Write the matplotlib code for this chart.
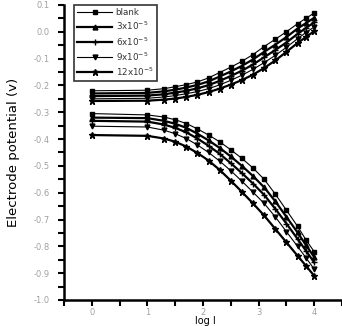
import matplotlib
matplotlib.use("Agg")
import matplotlib.pyplot as plt
from matplotlib.ticker import MultipleLocator, FormatStrFormatter

log_i = [0, 1.0, 1.3, 1.5, 1.7, 1.9, 2.1, 2.3, 2.5, 2.7, 2.9, 3.1, 3.3, 3.5, 3.7, 3.85, 4.0]

labels = ["blank", "3x10$^{-5}$", "6x10$^{-5}$", "9x10$^{-5}$", "12x10$^{-5}$"]

# anodic branch (upper)
anodic = [
    [-0.220, -0.218, -0.212, -0.205, -0.197, -0.187, -0.172, -0.152, -0.132, -0.110, -0.085, -0.055, -0.028, 0.000, 0.030, 0.050, 0.070],
    [-0.230, -0.228, -0.222, -0.216, -0.208, -0.198, -0.185, -0.167, -0.148, -0.127, -0.103, -0.075, -0.048, -0.020, 0.012, 0.032, 0.052],
    [-0.240, -0.238, -0.233, -0.227, -0.220, -0.211, -0.199, -0.183, -0.165, -0.145, -0.122, -0.095, -0.068, -0.040, -0.008, 0.014, 0.035],
    [-0.250, -0.248, -0.243, -0.238, -0.231, -0.223, -0.212, -0.198, -0.181, -0.162, -0.140, -0.115, -0.088, -0.058, -0.026, -0.003, 0.018],
    [-0.258, -0.257, -0.253, -0.249, -0.243, -0.235, -0.225, -0.212, -0.197, -0.180, -0.160, -0.135, -0.107, -0.075, -0.042, -0.020, 0.002],
]

# cathodic branch (lower)
cathodic = [
    [-0.305, -0.310, -0.318, -0.328, -0.342, -0.362, -0.385, -0.410, -0.440, -0.472, -0.508, -0.550, -0.605, -0.665, -0.725, -0.775, -0.820],
    [-0.320, -0.322, -0.332, -0.343, -0.358, -0.380, -0.405, -0.433, -0.465, -0.500, -0.538, -0.580, -0.632, -0.690, -0.748, -0.795, -0.840],
    [-0.332, -0.335, -0.346, -0.358, -0.375, -0.398, -0.425, -0.455, -0.490, -0.527, -0.566, -0.608, -0.660, -0.715, -0.772, -0.816, -0.860],
    [-0.352, -0.355, -0.367, -0.380, -0.398, -0.422, -0.450, -0.482, -0.518, -0.557, -0.598, -0.640, -0.690, -0.745, -0.800, -0.842, -0.885],
    [-0.385, -0.388, -0.398, -0.410, -0.428, -0.452, -0.480, -0.515, -0.555, -0.597, -0.640, -0.685, -0.735, -0.785, -0.835, -0.872, -0.910],
]

markers = ["s", "^", "+", "v", "*"]
widths = [0.8, 1.6, 1.6, 0.8, 1.6]
msizes = [3, 3.5, 4, 3.5, 4.5]

fig = plt.figure(figsize=(3.42, 3.26), dpi=100)
ax = fig.add_axes([0.187, 0.0798, 0.813, 0.905])

for i in range(5):
    kw = dict(color="black", marker=markers[i], lw=widths[i], ms=msizes[i], mew=1.0)
    ax.plot(log_i, anodic[i], label=labels[i], **kw)
    ax.plot(log_i, cathodic[i], **kw)

ax.set_xlim(-0.5, 4.5)
ax.set_ylim(-1.0, 0.1)
ax.xaxis.set_major_locator(MultipleLocator(1))
ax.xaxis.set_minor_locator(MultipleLocator(0.5))
ax.yaxis.set_major_locator(MultipleLocator(0.1))
ax.yaxis.set_minor_locator(MultipleLocator(0.05))
ax.yaxis.set_major_formatter(FormatStrFormatter("%.1f"))

for s in ["top", "right"]:
    ax.spines[s].set_visible(False)
for s in ["left", "bottom"]:
    ax.spines[s].set_linewidth(1.8)

ax.tick_params(which="both", direction="out", length=4, width=1.5, colors="black",
               labelcolor="#a0a0a0", labelsize=6)
ax.tick_params(axis="y", pad=6)
ax.tick_params(axis="x", pad=1.5)

ax.set_ylabel("Electrode potential (v)", fontsize=9.5, labelpad=10)
ax.set_xlabel("log I", fontsize=7, va="center")
ax.xaxis.set_label_coords(0.507, -0.072)

leg = ax.legend(loc="upper left", bbox_to_anchor=(0.035, 1.0), borderaxespad=0,
                fontsize=6.3, handlelength=4.0, frameon=True, fancybox=False,
                edgecolor="black", labelspacing=0.3, handletextpad=0.4,
                borderpad=0.4)
leg.get_frame().set_linewidth(1.2)
for t in leg.get_texts():
    t.set_color("#333333")

fig.savefig("out.png", dpi=100)
